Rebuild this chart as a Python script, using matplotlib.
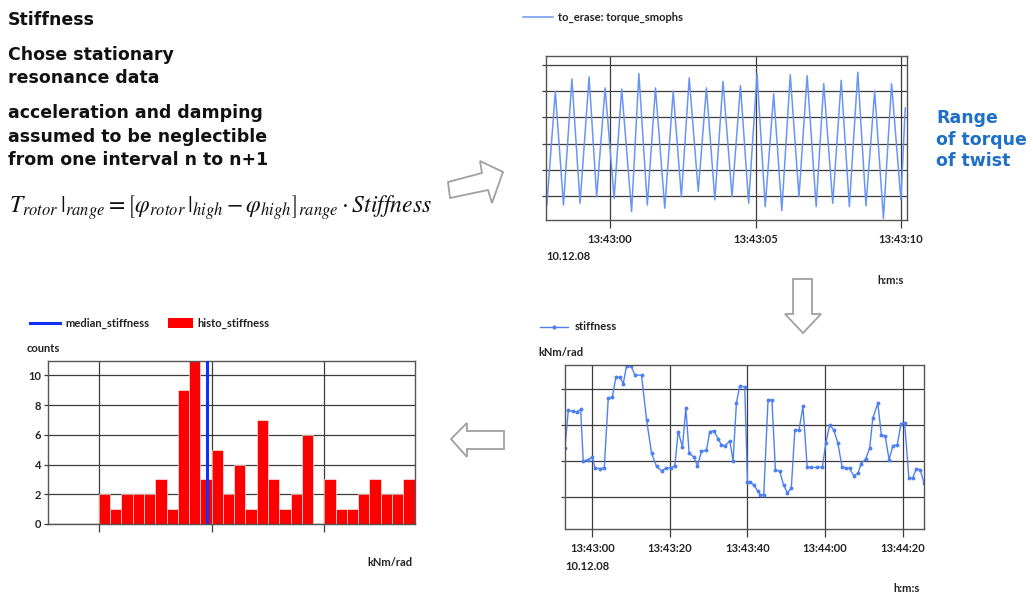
import matplotlib
matplotlib.use('Agg')
import matplotlib.pyplot as plt
from matplotlib.patches import Polygon, Rectangle

plt.rcParams['font.family'] = ['Lato', 'DejaVu Sans']
plt.rcParams['mathtext.fontset'] = 'stix'

# torque signal, extrema (s after 13:43:00, arbitrary units)
torque_t = [-2.17, -1.88, -1.60, -1.31, -1.03, -0.72, -0.46, -0.17, 0.14, 0.40,
            0.74, 0.99, 1.28, 1.56, 1.88, 2.17, 2.45, 2.72, 3.03, 3.31,
            3.60, 3.88, 4.19, 4.48, 4.76, 5.05, 5.33, 5.62, 5.90, 6.19,
            6.49, 6.77, 7.08, 7.34, 7.65, 7.94, 8.22, 8.51, 8.79, 9.09,
            9.39, 9.67, 9.99, 10.14]
torque_v = [-0.35, 4.00, -0.35, 4.47, -0.28, 4.55, -0.03, 4.13, -0.09, 4.09,
            -0.60, 4.68, -0.35, 4.13, -0.47, 4.00, -0.03, 4.51, 0.17, 4.13,
            -0.15, 4.38, -0.03, 4.22, -0.28, 4.68, -0.41, 3.91, -0.56, 4.64,
            -0.03, 4.60, -0.41, 4.29, -0.28, 4.42, -0.41, 4.73, -0.38, 4.00,
            -0.86, 4.29, -0.15, 3.36]
torque_ticks = [0, 5, 10]
torque_labels = ['13:43:00', '13:43:05', '13:43:10']

# stiffness over time (s after 13:43:00)
stiff_t = [-7.04, -6.18, -4.89, -4.03, -3.0, -2.32, -1.2, 0.0, 0.69, 1.97,
           3.09, 4.12, 5.15, 6.09, 7.12, 7.98, 8.84, 9.95, 10.98, 12.7,
           13.99, 15.27, 16.56, 17.85, 19.13, 20.25, 21.28, 22.14, 23.25, 24.11,
           24.97, 26.17, 27.11, 28.14, 29.43, 30.29, 31.32, 32.43, 33.29, 34.32,
           35.44, 36.29, 37.15, 38.01, 39.3, 40.0, 40.6, 41.6, 42.7, 43.3,
           44.2, 45.3, 46.3, 47.2, 48.3, 49.3, 50.3, 51.3, 52.2, 53.3,
           54.3, 55.4, 56.5, 57.8, 59.3, 60.2, 61.2, 62.2, 63.3, 64.4,
           65.5, 66.3, 67.4, 68.5, 69.3, 70.5, 71.5, 72.3, 73.6, 74.5,
           75.5, 76.5, 77.5, 78.6, 79.6, 80.5, 81.6, 82.6, 83.5, 84.5, 85.5]
stiff_v = [2.36, 3.41, 3.38, 3.36, 3.44, 1.99, 2.04, 2.10, 1.81, 1.79,
           1.81, 3.75, 3.77, 4.33, 4.33, 4.15, 4.65, 4.65, 4.40, 4.38,
           3.15, 2.22, 1.85, 1.73, 1.81, 1.81, 1.87, 2.82, 2.39, 3.47,
           2.22, 2.11, 1.87, 2.27, 2.30, 2.82, 2.84, 2.62, 2.45, 2.43,
           2.56, 2.01, 3.61, 4.09, 4.06, 1.41, 1.41, 1.34, 1.16, 1.06,
           1.06, 3.69, 3.70, 1.76, 1.71, 1.34, 1.11, 1.25, 2.85, 2.87,
           3.52, 1.83, 1.82, 1.82, 1.83, 2.50, 3.01, 2.87, 2.50, 1.82,
           1.81, 1.80, 1.59, 1.67, 1.93, 2.06, 2.36, 3.19, 3.61, 2.73,
           2.69, 2.04, 2.43, 2.45, 3.04, 3.06, 1.53, 1.53, 1.79, 1.76, 1.39]
stiff_ticks = [0, 20, 40, 60, 80]
stiff_labels = ['13:43:00', '13:43:20', '13:43:40', '13:44:00', '13:44:20']

# histogram of stiffness
hist_left = list(range(10, 38))
hist_counts = [2, 1, 2, 2, 2, 3, 1, 9, 11, 3, 5, 2, 4, 1, 7, 3, 1, 2, 6, 0,
               3, 1, 1, 2, 3, 2, 2, 3]
median_stiffness = 19.57

W, H = 1033, 597
fig = plt.figure(figsize=(W / 100, H / 100), dpi=100)

# overlay in pixel coordinates for slide text and arrows
ov = fig.add_axes([0, 0, 1, 1])
ov.set_xlim(0, W)
ov.set_ylim(H, 0)
ov.axis('off')

def px_axes(x0, y0, x1, y1):
    return fig.add_axes([x0 / W, 1 - y1 / H, (x1 - x0) / W, (y1 - y0) / H])

lab = dict(fontsize=8, fontweight='bold', color='#222222')
grid_c = '#3c3c3c'

def style(ax):
    for s in ax.spines.values():
        s.set_color('#555555')
        s.set_linewidth(1.0)
    ax.grid(True, color=grid_c, linewidth=0.9)
    ax.tick_params(axis='x', length=6, width=0.9, color=grid_c, pad=4,
                   labelsize=8, labelcolor='#222222')
    ax.tick_params(axis='y', length=3, width=0.9, color=grid_c, pad=2,
                   labelsize=8, labelcolor='#222222')
    for t in ax.get_xticklabels() + ax.get_yticklabels():
        t.set_fontweight('bold')

# left text block
big = dict(fontsize=12.5, fontweight='bold', family='DejaVu Sans',
           color='#111111', va='baseline')
ov.text(8, 25, 'Stiffness', **big)
ov.text(8, 60, 'Chose stationary', **big)
ov.text(8, 83, 'resonance data', **big)
ov.text(8, 118, 'acceleration and damping', **big)
ov.text(8, 142, 'assumed to be neglectible', **big)
ov.text(8, 165, 'from one interval n to n+1', **big)
ov.text(9, 213, r'$T_{rotor}\,|_{range} = \left[\varphi_{rotor}\,|_{high} - \varphi_{high}\right]_{range} \cdot Stiffness$',
        fontsize=17, va='baseline', color='#111111')

blue = dict(fontsize=12.5, fontweight='bold', family='DejaVu Sans',
            color='#1f6fc6', va='baseline')
ov.text(936, 123, 'Range', **blue)
ov.text(936, 145, 'of torque', **blue)
ov.text(936, 166, 'of twist', **blue)

# hollow arrows
arrow_kw = dict(closed=True, facecolor='white', edgecolor='#a0a0a0', linewidth=1.3)
ov.add_patch(Polygon([(450, 198), (448, 182), (482, 173), (480, 161), (503, 172),
                      (492, 203), (488, 190)], **arrow_kw))
ov.add_patch(Polygon([(793, 279), (812, 279), (812, 314), (821, 314), (803, 333),
                      (785, 314), (793, 314)], **arrow_kw))
ov.add_patch(Polygon([(451, 439), (467, 423), (467, 431), (504, 431), (504, 449),
                      (467, 449), (467, 457)], **arrow_kw))

# torque chart
ax1 = px_axes(546, 56, 907, 220)
ax1.plot(torque_t, torque_v, color='#6a95f4', linewidth=1.1)
ax1.set_xlim(-2.2, 10.2)
ax1.set_ylim(-0.92, 5.35)
ax1.set_xticks(torque_ticks)
ax1.set_xticklabels(torque_labels)
ax1.set_yticks([0, 1, 2, 3, 4, 5])
ax1.set_yticklabels([])
style(ax1)
ov.plot([523, 553], [17, 17], color='#6a95f4', linewidth=1.1)
ov.text(558, 17, 'to_erase: torque_smophs', va='center', **lab)
ov.text(546, 257, '10.12.08', va='center', **lab)
ov.text(877, 280, 'h:m:s', va='center', **lab)

# stiffness over time
ax2 = px_axes(565, 365, 924, 529)
ax2.plot(stiff_t, stiff_v, color='#4f80f2', linewidth=1.0, marker='o', markersize=1.8)
ax2.set_xlim(-7.03, 85.5)
ax2.set_ylim(0.11, 4.67)
ax2.set_xticks(stiff_ticks)
ax2.set_xticklabels(stiff_labels)
ax2.set_yticks([1, 2, 3, 4])
ax2.set_yticklabels([])
style(ax2)
ov.plot([540, 568], [327, 327], color='#4f80f2', linewidth=1.0)
ov.plot([554], [327], color='#4f80f2', marker='o', markersize=2)
ov.text(575, 327, 'stiffness', va='center', **lab)
ov.text(538, 352, 'kNm/rad', va='center', **lab)
ov.text(565, 567, '10.12.08', va='center', **lab)
ov.text(893, 588, 'h:m:s', va='center', **lab)

# histogram
ax3 = px_axes(48, 361, 415, 524)
ax3.bar(hist_left, hist_counts, width=1.0, align='edge', color='#ff0000',
        edgecolor='white', linewidth=0.4, zorder=2)
ax3.axvline(median_stiffness, color='#1030ff', linewidth=2.2, zorder=3)
ax3.set_xlim(5.48, 38.04)
ax3.set_ylim(0, 10.96)
ax3.set_xticks([10, 20, 30])
ax3.set_xticklabels([])
ax3.set_yticks([0, 2, 4, 6, 8, 10])
style(ax3)
ov.plot([30, 60], [323, 323], color='#1030ff', linewidth=2.2)
ov.text(65, 323, 'median_stiffness', va='center', **lab)
ov.add_patch(Rectangle((168, 318), 25, 10, facecolor='#ff0000', edgecolor='none'))
ov.text(197, 323, 'histo_stiffness', va='center', **lab)
ov.text(27, 348, 'counts', va='center', **lab)
ov.text(367, 563, 'kNm/rad', va='center', **lab)

fig.savefig('out.png', dpi=100)
